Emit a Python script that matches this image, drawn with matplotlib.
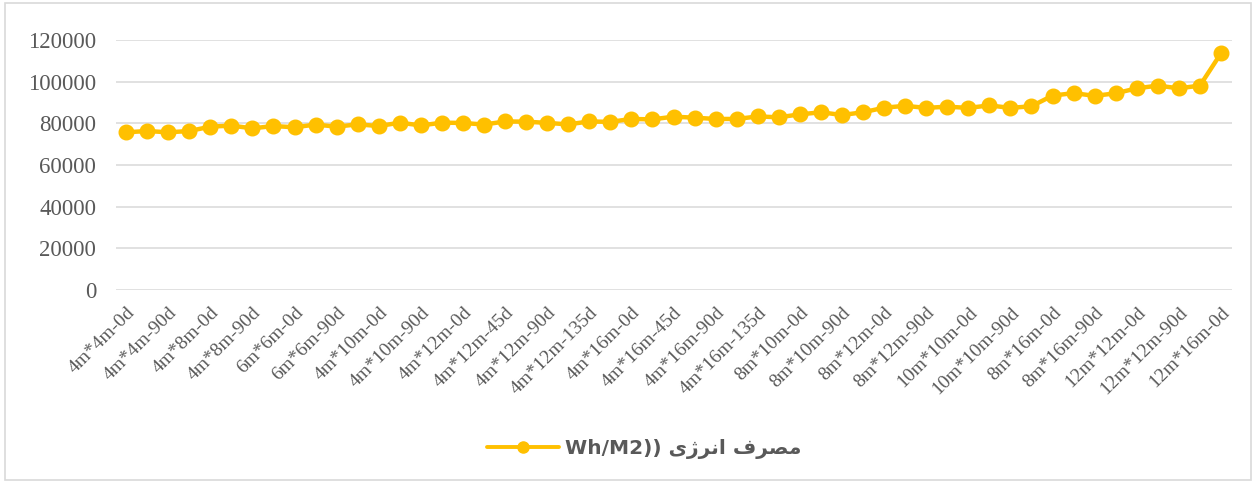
import matplotlib
matplotlib.use("Agg")
import matplotlib.pyplot as plt
from matplotlib.patches import Rectangle
from matplotlib.ticker import FixedLocator

# ---- data ----
tick_labels = [
    "4m*4m-0d", "4m*4m-90d", "4m*8m-0d", "4m*8m-90d", "6m*6m-0d", "6m*6m-90d",
    "4m*10m-0d", "4m*10m-90d", "4m*12m-0d", "4m*12m-45d", "4m*12m-90d",
    "4m*12m-135d", "4m*16m-0d", "4m*16m-45d", "4m*16m-90d", "4m*16m-135d",
    "8m*10m-0d", "8m*10m-90d", "8m*12m-0d", "8m*12m-90d", "10m*10m-0d",
    "10m*10m-90d", "8m*16m-0d", "8m*16m-90d", "12m*12m-0d", "12m*12m-90d",
    "12m*16m-0d",
]
energy = [
    75700, 76300, 75700, 76300, 78400, 78900, 77600, 78700, 78100, 79400,
    78400, 79500, 78700, 80300, 79000, 80300, 80200, 79400, 80900, 80800,
    80200, 79500, 80900, 80700, 82100, 81900, 83200, 82700, 82100, 82100,
    83300, 82900, 84300, 85300, 84000, 85300, 87500, 88400, 87400, 88000,
    87400, 88600, 87400, 88200, 93300, 94500, 93200, 94400, 96800, 98100,
    96800, 98100, 113600,
]
y_ticks = [0, 20000, 40000, 60000, 80000, 100000, 120000]
# legend: "Wh/M2)) " followed by "مصرف انرژی" in visual (shaped, left-to-right) order
series_name = "Wh/M2)) " + "\uFBFC\uFB8A\uFEAE\uFEE7\uFE8D \uFED1\uFEAE\uFEBC\uFEE3"

GOLD = "#FFC000"
GRAY = "#595959"
GRID = "#D9D9D9"

fig = plt.figure(figsize=(12.56, 4.83), dpi=100)
ax = fig.add_axes([0.092, 0.3996, 0.8885, 0.5176])

x = list(range(len(energy)))
ax.plot(x, energy, color=GOLD, lw=3.2, marker="o", markersize=10.5,
        markerfacecolor=GOLD, markeredgecolor=GOLD, label=series_name,
        solid_capstyle="round", zorder=3)

ax.set_xlim(-0.5, len(energy) - 0.5)
ax.set_ylim(0, 120000)
ax.set_yticks(y_ticks)
ax.set_yticklabels([str(v) for v in y_ticks], family="Liberation Serif",
                   fontsize=16.5, color=GRAY)
ax.tick_params(axis="y", length=0, pad=14)

tick_pos = x[::2]
ax.xaxis.set_major_locator(FixedLocator(tick_pos))
ax.set_xticklabels(tick_labels, rotation=45, ha="right", rotation_mode="anchor",
                   family="Liberation Serif", fontsize=14, color=GRAY)
ax.tick_params(axis="x", length=0, pad=10)

ax.grid(axis="y", color=GRID, lw=1.1, zorder=0)
for s in ax.spines.values():
    s.set_visible(False)

leg = ax.legend(loc="center", bbox_to_anchor=(0.513, 0.07),
                bbox_transform=fig.transFigure, frameon=False,
                handlelength=3.6, handletextpad=0.3,
                prop={"family": ["DejaVu Sans"], "weight": "bold", "size": 14.5})
for t in leg.get_texts():
    t.set_color(GRAY)
for h in leg.legend_handles:
    h.set_markersize(8)
    h.set_linewidth(2.8)

fig.patches.append(Rectangle((5 / 1256, 3 / 483), 1246 / 1256, 477 / 483,
                             transform=fig.transFigure, fill=False,
                             edgecolor=GRID, lw=1.2))

fig.savefig("out.png", dpi=100)
